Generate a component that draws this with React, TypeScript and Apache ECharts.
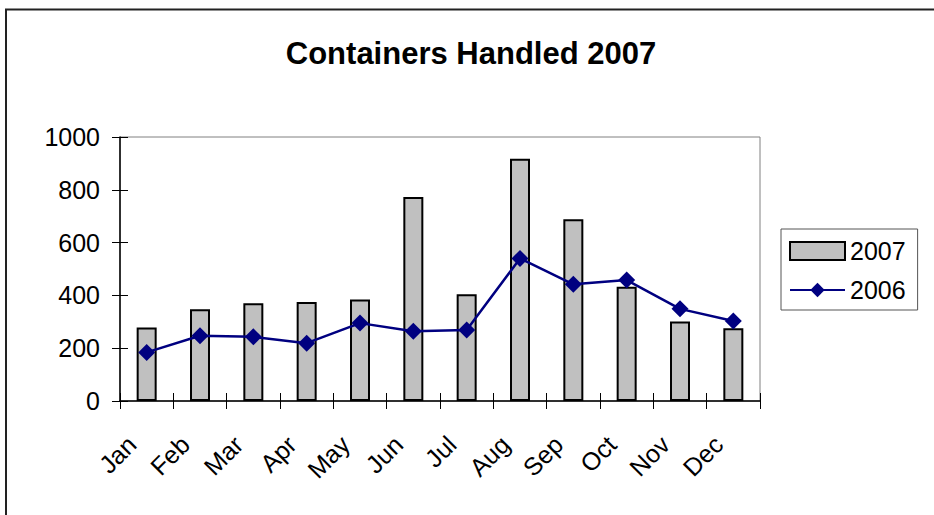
import React, { useEffect, useRef } from "react";
import * as echarts from "echarts";

const titleText = "Containers Handled 2007";
const months = ["Jan", "Feb", "Mar", "Apr", "May", "Jun", "Jul", "Aug", "Sep", "Oct", "Nov", "Dec"];
const values2007 = [278, 348, 370, 375, 384, 773, 404, 918, 688, 433, 301, 276];
const values2006 = [184, 247, 243, 219, 295, 264, 269, 540, 442, 458, 349, 303];
const yMin = 0;
const yMax = 1000;
const yInterval = 200;

const FONT = "Liberation Sans, Arial, Helvetica, sans-serif";

export default function App() {
  const ref = useRef<HTMLDivElement>(null);
  useEffect(() => {
    document.body.style.margin = "0";
    const chart = echarts.init(ref.current!, null, { renderer: "svg" });
    const axisLineStyle = { color: "#000", width: 1.5 };
    chart.setOption({
      animation: false,
      backgroundColor: "#fff",
      textStyle: { fontFamily: FONT },
      title: {
        text: titleText,
        left: 466,
        textAlign: "center",
        top: 33,
        textStyle: { fontSize: 31, fontWeight: "bold", color: "#000", fontFamily: FONT },
      },
      graphic: [
        {
          type: "rect",
          shape: { x: 6, y: 9.5, width: 1000, height: 600 },
          style: { fill: "none", stroke: "#222", lineWidth: 2 },
          silent: true,
          z: -1,
        },
      ],
      legend: {
        orient: "vertical",
        left: 781,
        top: 229,
        padding: [9, 12, 7, 8],
        itemWidth: 55,
        itemHeight: 18,
        itemGap: 13,
        borderColor: "#555",
        borderWidth: 1,
        backgroundColor: "#fff",
        textStyle: { fontSize: 25, color: "#000", fontFamily: FONT, lineHeight: 26 },
        data: [
          { name: "2007", icon: "rect" },
          { name: "2006" },
        ],
      },
      grid: {
        left: 120,
        right: 174,
        top: 137,
        bottom: 114,
        show: true,
        borderColor: "#808080",
        borderWidth: 1,
        backgroundColor: "#fff",
        containLabel: false,
      },
      xAxis: [
        {
          type: "category",
          data: months,
          position: "bottom",
          boundaryGap: true,
          axisLine: { show: true, lineStyle: axisLineStyle },
          axisTick: { show: true, length: 8, inside: false, lineStyle: { color: "#000", width: 1 } },
          axisLabel: {
            rotate: 45,
            margin: 54,
            align: "right",
            verticalAlign: "bottom",
            lineHeight: 42,
            fontSize: 25,
            color: "#000",
            fontFamily: FONT,
            interval: 0,
          },
          splitLine: { show: false },
        },
        {
          type: "category",
          data: months,
          position: "bottom",
          boundaryGap: true,
          axisLine: { show: false },
          axisTick: { show: true, length: 8, inside: true, lineStyle: { color: "#000", width: 1 } },
          axisLabel: { show: false },
          splitLine: { show: false },
        },
      ],
      yAxis: [
        {
          type: "value",
          min: yMin,
          max: yMax,
          interval: yInterval,
          position: "left",
          axisLine: { show: true, lineStyle: axisLineStyle },
          axisTick: { show: true, length: 8, inside: false, lineStyle: { color: "#000", width: 1 } },
          axisLabel: {
            fontSize: 25,
            color: "#000",
            margin: 20,
            fontFamily: FONT,
            formatter: (v: number) => String(v),
          },
          splitLine: { show: false },
        },
        {
          type: "value",
          min: yMin,
          max: yMax,
          interval: yInterval,
          position: "left",
          offset: 0,
          axisLine: { show: false },
          axisTick: { show: true, length: 8, inside: true, lineStyle: { color: "#000", width: 1 } },
          axisLabel: { show: false },
          splitLine: { show: false },
        },
      ],
      series: [
        {
          name: "2007",
          type: "bar",
          data: values2007,
          barWidth: 20,
          xAxisIndex: 0,
          yAxisIndex: 0,
          itemStyle: { color: "#C0C0C0", borderColor: "#000", borderWidth: 2 },
        },
        {
          name: "2006",
          type: "line",
          data: values2006,
          xAxisIndex: 0,
          yAxisIndex: 0,
          symbol: "diamond",
          symbolSize: 17,
          lineStyle: { color: "#000080", width: 2.5 },
          itemStyle: { color: "#000080" },
          z: 5,
        },
      ],
    });
    return () => chart.dispose();
  }, []);
  return <div ref={ref} style={{ width: 934, height: 515, position: "absolute", left: 0, top: 0 }} />;
}
